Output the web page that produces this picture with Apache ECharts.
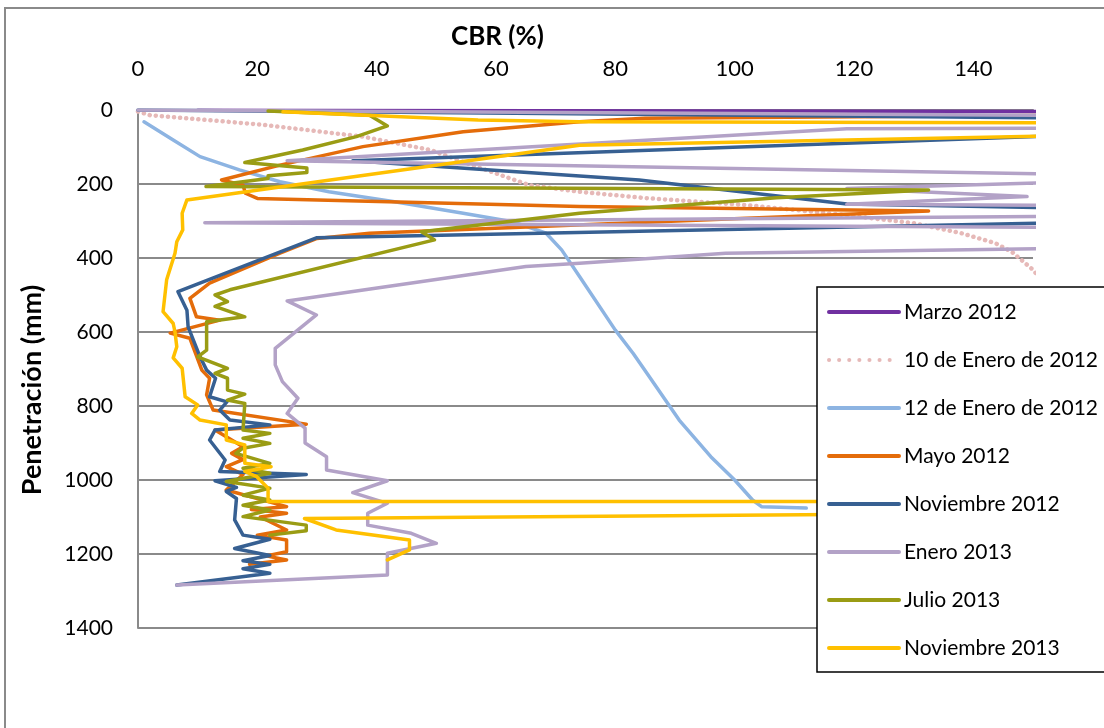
<!DOCTYPE html>
<html><head><meta charset="utf-8">
<script src="https://cdn.jsdelivr.net/npm/echarts@6/dist/echarts.min.js"></script>
<style>html,body{margin:0;padding:0;background:#fff}#c{width:1104px;height:728px}</style>
</head><body><div id="c"></div>
<script>
// Axis ranges / ticks
const xMin = 0, xMax = 150, xStep = 20;      // CBR (%)
const yMin = 0, yMax = 1400, yStep = 200;    // Penetración (mm)

// Series names (legend order)
const seriesNames = ['Marzo 2012','10 de Enero de 2012','12 de Enero de 2012','Mayo 2012',
  'Noviembre 2012','Enero 2013','Julio 2013','Noviembre 2013'];

// Each point: [CBR %, penetración mm]  (values beyond 150 run off the plot edge)
const marzo2012 = [[10,1],[160,4]];
const enero10_2012 = [[0,4],[2,14],[21,40],[37.7,72],[49,108],[54.4,140],[65.6,203],[74,221],[85,238],[102,257],[118.6,284],[130,306],[138,333],[143.7,360],[146.5,384],[150,432],[152,470]];
const enero12_2012 = [[1,32],[5.9,81],[10.4,126],[17,162],[23.8,194],[32,221],[43,248],[54.5,279],[62.8,302],[68.4,333],[71,378],[74,450],[80,595],[83,658],[85.7,721],[90.7,838],[96,937],[100,1000],[103,1054],[104.5,1072],[112,1076]];
const mayo2012 = [[160,14],[85,22],[74,32],[54.5,59],[37.7,99],[23.8,149],[14,189],[17.6,203],[18,225],[20,239],[74,261],[132.5,273],[38.8,333],[30,347],[23.8,387],[12,468],[8.7,509],[9.8,559],[13.7,568],[5.4,603],[8.7,617],[10.7,703],[12,725],[11.5,770],[12.6,811],[28.2,849],[12.9,865],[17.6,910],[15.7,928],[17.6,945],[14.8,964],[17.6,985],[14.8,1027],[24.9,1072],[19,1080],[24.9,1090],[20.5,1100],[24.9,1135],[20,1149],[24.9,1162],[24.9,1194],[21.5,1205],[24.9,1216],[18.7,1228]];
const noviembre2012 = [[0,0],[160,22],[160,66],[36,137],[84,189],[118.8,254],[160,266],[160,303],[30,345],[6.7,491],[8.2,541],[8.4,586],[10.4,667],[11.5,703],[13,725],[12,775],[14.9,789],[13.7,811],[15.4,838],[22.1,851],[12.9,865],[12,892],[14.6,946],[13.7,977],[28.2,985],[12.9,1002],[16.5,1020],[14.8,1031],[16.5,1050],[16.2,1108],[17.6,1149],[22.1,1160],[16.2,1185],[22.1,1204],[17.6,1218],[22.1,1228],[17.6,1240],[22.1,1252],[6.5,1284]];
const enero2013 = [[0,0],[160,15],[160,49],[118.8,51],[25,137],[160,175],[160,193],[118.8,212],[149,234],[118.8,255],[160,258],[160,287],[11.2,305],[160,318],[160,373],[98.5,387],[74,414],[65,423],[25,516],[29.9,554],[23,644],[23,689],[24.2,734],[26.8,779],[25,820],[28,860],[28,900],[31.6,937],[31.6,973],[41.8,1002],[36,1034],[41.8,1063],[38.5,1090],[38.5,1122],[45.8,1144],[50,1171],[41.8,1198],[41.8,1257],[6.5,1284]];
const julio2013 = [[21.8,3],[38.8,14],[41.8,43],[36.6,72],[27.6,108],[17.9,142],[28.3,157],[28.3,169],[21.8,178],[21.8,185],[11.4,207],[132.5,216],[107,237],[74,279],[47.5,329],[49.7,351],[15.4,486],[12.9,500],[15,518],[12.9,531],[17.9,559],[11.5,572],[11.5,649],[10,667],[15,698],[12.9,712],[15,725],[15,757],[17.9,768],[15,784],[17.9,793],[17.6,865],[22.1,874],[17.6,887],[22.1,901],[17.6,914],[16.4,928],[22.1,955],[17.6,968],[22.1,982],[14.8,1004],[22.1,1022],[17.6,1041],[22.1,1054],[17.6,1068],[22.1,1081],[17.6,1099],[28.2,1122],[28.2,1137],[22.1,1149]];
const noviembre2013 = [[24.3,5],[57,27],[74,32],[160,35],[160,68],[74,95],[8.2,243],[7.4,279],[7.5,324],[6.5,356],[6.2,387],[4.8,459],[4.2,545],[5.9,577],[6.2,600],[6.5,640],[5.9,670],[7.4,698],[7.9,775],[10,797],[9,820],[10.4,838],[14.8,851],[14.8,892],[17.9,905],[17.9,955],[22.3,964],[17.9,977],[19.9,991],[21.8,1022],[21.8,1058],[160,1058],[160,1088],[27.9,1104],[33.2,1135],[45.5,1162],[45.5,1189],[41.8,1216]];

const seriesData = [marzo2012, enero10_2012, enero12_2012, mayo2012, noviembre2012, enero2013, julio2013, noviembre2013];
const seriesColors = ['#7030A0','#E6B9B8','#8DB4E2','#E46C0A','#376092','#B3A2C7','#9A9C14','#FFC000'];

const FONT = 'Lato, "Open Sans", "Liberation Sans", sans-serif';
const chart = echarts.init(document.getElementById('c'), null, {renderer: 'canvas'});

const series = seriesNames.map((name, i) => ({
  name: name,
  type: 'line',
  data: seriesData[i],
  symbol: 'none',
  showSymbol: false,
  clip: true,
  smooth: false,
  animation: false,
  color: seriesColors[i],
  lineStyle: i === 1
    ? {color: seriesColors[i], width: 4.5, type: [0.1, 6], cap: 'round'}
    : {color: seriesColors[i], width: 3.5, cap: 'round', join: 'round'}
}));

const legendData = seriesNames.map((name, i) => i === 1
  ? {name: name, lineStyle: {width: 4, type: [0.1, 10], cap: 'round'}}
  : {name: name});

chart.setOption({
  animation: false,
  backgroundColor: '#fff',
  title: {
    text: 'CBR (%)', left: 446, top: 19,
    textStyle: {fontFamily: FONT, fontWeight: 'bold', fontSize: 26, color: '#000'}
  },
  graphic: [
    {type: 'rect', z: -1, shape: {x: 5, y: 8, width: 1200, height: 800},
     style: {fill: 'none', stroke: '#8a8a8a', lineWidth: 2}},
    {type: 'text', x: 32, y: 390, rotation: Math.PI / 2,
     style: {text: 'Penetración (mm)', font: 'bold 27px ' + FONT, fill: '#000',
             textAlign: 'center', textVerticalAlign: 'middle'}}
  ],
  grid: {left: 138, top: 110, right: 71, bottom: 100, containLabel: false},
  xAxis: {
    type: 'value', position: 'top', min: xMin, max: xMax, interval: xStep,
    axisLine: {show: true, lineStyle: {color: '#8a8a8a', width: 2}},
    axisTick: {show: false},
    splitLine: {show: false},
    axisLabel: {showMaxLabel: false, margin: 30, fontFamily: FONT, fontSize: 22, color: '#000'}
  },
  yAxis: {
    type: 'value', inverse: true, min: yMin, max: yMax, interval: yStep,
    axisLine: {show: true, lineStyle: {color: '#8a8a8a', width: 2}},
    axisTick: {show: false},
    splitLine: {show: true, lineStyle: {color: '#8a8a8a', width: 2}},
    axisLabel: {margin: 25, fontFamily: FONT, fontSize: 21, color: '#000',
                formatter: v => String(v)}
  },
  legend: {
    orient: 'vertical', left: 817, top: 287,
    backgroundColor: '#fff', borderColor: '#000', borderWidth: 1.5,
    padding: [13, 10, 12, 10],
    itemWidth: 70, itemHeight: 14, itemGap: 24,
    itemStyle: {opacity: 0},
    lineStyle: {width: 4, cap: 'round'},
    textStyle: {fontFamily: FONT, fontSize: 21, color: '#000', lineHeight: 24},
    data: legendData
  },
  series: series
});
</script>
</body></html>
